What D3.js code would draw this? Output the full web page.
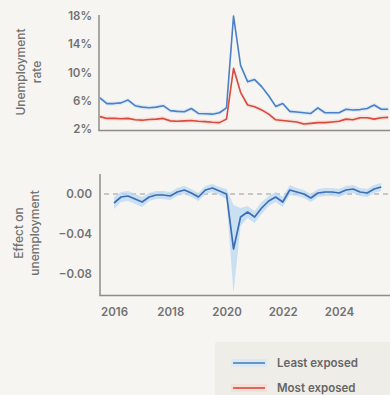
<!DOCTYPE html>
<html>
<head>
<meta charset="utf-8">
<script src="https://cdn.jsdelivr.net/npm/d3@7"></script>
<style>
  html, body { margin: 0; padding: 0; background: #f6f5f1; }
  svg { display: block; font-family: Inter, "Noto Sans", sans-serif; }
</style>
</head>
<body>
<svg id="chart" width="390" height="395"></svg>
<script>
// Quarterly observations, from 2015 Q3 to 2025 Q4 (decimal years)
const quarters = d3.range(0, 42).map(i => 2015.5 + i * 0.25);

// Unemployment rate (%) for the least and most exposed groups
const leastExposed = [
  6.4, 5.6, 5.6, 5.7, 6.1, 5.3, 5.1, 5.0, 5.1, 5.3,
  4.6, 4.5, 4.45, 4.9, 4.2, 4.15, 4.1, 4.3, 5.0, 18.0,
  11.0, 8.7, 9.0, 8.0, 6.7, 5.2, 5.6, 4.5, 4.4, 4.3,
  4.2, 5.0, 4.3, 4.3, 4.3, 4.8, 4.7, 4.75, 4.9, 5.4,
  4.8, 4.8
];
const mostExposed = [
  3.75, 3.5, 3.5, 3.45, 3.5, 3.3, 3.25, 3.35, 3.4, 3.5,
  3.15, 3.1, 3.15, 3.2, 3.1, 3.05, 2.95, 2.9, 3.4, 10.6,
  7.2, 5.4, 5.15, 4.7, 4.1, 3.3, 3.2, 3.1, 3.0, 2.7,
  2.8, 2.9, 2.9, 3.0, 3.1, 3.4, 3.3, 3.6, 3.6, 3.4,
  3.6, 3.65
];

// Estimated effect on unemployment, 2016 Q1 to 2025 Q3
const effectQuarters = d3.range(0, 39).map(i => 2016 + i * 0.25);
const effect = [
  -0.009, -0.003, -0.002, -0.005, -0.008, -0.003, -0.001, -0.001, -0.002, 0.002,
  0.004, 0.001, -0.003, 0.004, 0.006, 0.003, 0.000, -0.055, -0.023, -0.018,
  -0.023, -0.014, -0.007, -0.003, -0.008, 0.004, 0.002, 0.000, -0.004, 0.001,
  0.002, 0.002, 0.001, 0.004, 0.005, 0.002, 0.001, 0.005, 0.007
];
// Half-width of the confidence band around the effect
const effectBand = [
  0.006, 0.005, 0.005, 0.005, 0.005, 0.004, 0.004, 0.004, 0.004, 0.004,
  0.004, 0.004, 0.004, 0.004, 0.004, 0.004, 0.005, 0.044, 0.009, 0.006,
  0.006, 0.006, 0.005, 0.005, 0.005, 0.005, 0.004, 0.004, 0.004, 0.004,
  0.004, 0.004, 0.004, 0.004, 0.004, 0.004, 0.004, 0.004, 0.004
];

const rateTicks = [2, 6, 10, 14, 18];
const effectTicks = [0, -0.04, -0.08];
const yearTicks = [2016, 2018, 2020, 2022, 2024];

const seriesNames = ["Least exposed", "Most exposed"];
const colors = { least: "#4a80c6", most: "#d84a3c", effect: "#3c6db5" };

const svg = d3.select("#chart");
const axisColor = "#8c8c8a";
const textColor = "#727272";

const x = d3.scaleLinear().domain([2016, 2024]).range([114, 339]);

// ---------- Top panel: unemployment rate ----------
const yTop = d3.scaleLinear().domain([2, 18]).range([129, 16]);

const ratePanel = svg.append("g");

const yAxisTop = d3.axisLeft(yTop).tickValues(rateTicks)
  .tickFormat(d => d + "%").tickSize(0).tickPadding(7);
ratePanel.append("g").attr("transform", "translate(99,0)").call(yAxisTop)
  .call(g => g.select(".domain").remove())
  .call(g => g.selectAll("text").attr("fill", textColor)
    .attr("font-size", 11.5).attr("font-weight", 600).attr("font-family", "Inter, sans-serif"));

ratePanel.append("line").attr("x1", 99).attr("x2", 99).attr("y1", 15).attr("y2", 130.5)
  .attr("stroke", axisColor).attr("stroke-width", 1.5);
ratePanel.append("line").attr("x1", 98.25).attr("x2", 390).attr("y1", 130.5).attr("y2", 130.5)
  .attr("stroke", axisColor).attr("stroke-width", 1.5);

const rateArea = (vals) => d3.area()
  .x((d, i) => x(quarters[i]))
  .y0((d) => yTop(d - 0.3))
  .y1((d) => yTop(d + 0.3))(vals);
const rateLine = d3.line().x((d, i) => x(quarters[i])).y(d => yTop(d));

ratePanel.append("path").attr("d", rateArea(leastExposed)).attr("fill", "#cfe3f6").attr("opacity", 0.6);
ratePanel.append("path").attr("d", rateArea(mostExposed)).attr("fill", "#f6d3cd").attr("opacity", 0.6);
ratePanel.append("path").attr("d", rateLine(mostExposed)).attr("fill", "none")
  .attr("stroke", colors.most).attr("stroke-width", 1.6).attr("stroke-linejoin", "round");
ratePanel.append("path").attr("d", rateLine(leastExposed)).attr("fill", "none")
  .attr("stroke", colors.least).attr("stroke-width", 1.6).attr("stroke-linejoin", "round");

svg.append("text")
  .attr("transform", "translate(25,72) rotate(-90)")
  .attr("text-anchor", "middle").attr("fill", textColor)
  .attr("font-size", 12).attr("font-weight", 500)
  .call(t => {
    t.append("tspan").attr("x", 0).attr("dy", 0).text("Unemployment");
    t.append("tspan").attr("x", 0).attr("dy", 16).text("rate");
  });

// ---------- Bottom panel: effect on unemployment ----------
const yBot = d3.scaleLinear().domain([-0.10, 0.02]).range([294, 174]);
const effectPanel = svg.append("g");

const yAxisBot = d3.axisLeft(yBot).tickValues(effectTicks)
  .tickFormat(d3.format(".2f")).tickSize(0).tickPadding(8);
effectPanel.append("g").attr("transform", "translate(100,0)").call(yAxisBot)
  .call(g => g.select(".domain").remove())
  .call(g => g.selectAll("text").attr("fill", textColor)
    .attr("font-size", 11.5).attr("font-weight", 600).attr("font-family", "Inter, sans-serif"));

const xAxisBot = d3.axisBottom(x).tickValues(yearTicks).tickFormat(d3.format("d"))
  .tickSize(0).tickPadding(13);
effectPanel.append("g").attr("transform", "translate(0,295)").call(xAxisBot)
  .call(g => g.select(".domain").remove())
  .call(g => g.selectAll("text").attr("fill", textColor)
    .attr("font-size", 11.5).attr("font-weight", 600).attr("font-family", "Inter, sans-serif"));

effectPanel.append("line").attr("x1", 100).attr("x2", 100).attr("y1", 174).attr("y2", 295.5)
  .attr("stroke", axisColor).attr("stroke-width", 1.5);
effectPanel.append("line").attr("x1", 99.25).attr("x2", 390).attr("y1", 295.5).attr("y2", 295.5)
  .attr("stroke", axisColor).attr("stroke-width", 1.5);

// zero reference line
effectPanel.append("line").attr("x1", 104).attr("x2", 390).attr("y1", yBot(0)).attr("y2", yBot(0))
  .attr("stroke", "#9a9a98").attr("stroke-width", 1.2).attr("stroke-dasharray", "5,4");

const bandArea = d3.area()
  .x((d, i) => x(effectQuarters[i]))
  .y0((d, i) => yBot(d - effectBand[i]))
  .y1((d, i) => yBot(d + effectBand[i]));
effectPanel.append("path").attr("d", bandArea(effect)).attr("fill", "#b9d7f2").attr("opacity", 0.75);

const effLine = d3.line().x((d, i) => x(effectQuarters[i])).y(d => yBot(d));
effectPanel.append("path").attr("d", effLine(effect)).attr("fill", "none")
  .attr("stroke", colors.effect).attr("stroke-width", 1.7).attr("stroke-linejoin", "round");

svg.append("text")
  .attr("transform", "translate(23,233) rotate(-90)")
  .attr("text-anchor", "middle").attr("fill", textColor)
  .attr("font-size", 12).attr("font-weight", 500)
  .call(t => {
    t.append("tspan").attr("x", 0).attr("dy", 0).text("Effect on");
    t.append("tspan").attr("x", 0).attr("dy", 16).text("unemployment");
  });

// ---------- Legend ----------
const legend = svg.append("g").attr("transform", "translate(215,342)");
legend.append("rect").attr("x", 0).attr("y", 0).attr("width", 180).attr("height", 60)
  .attr("rx", 2).attr("fill", "#eeede8");
const legendColors = [colors.least, colors.most];
const legendBands = ["#d6e7f7", "#f7d9d3"];
seriesNames.forEach((name, i) => {
  const yy = 21 + i * 25;
  legend.append("rect").attr("x", 16).attr("y", yy - 4).attr("width", 36).attr("height", 8)
    .attr("fill", legendBands[i]).attr("opacity", 0.7);
  legend.append("line").attr("x1", 18).attr("x2", 50).attr("y1", yy).attr("y2", yy)
    .attr("stroke", legendColors[i]).attr("stroke-width", 1.6);
  legend.append("text").attr("x", 62).attr("y", yy).attr("dy", "0.35em")
    .attr("fill", "#666").attr("font-size", 11.5).attr("font-weight", 600)
    .text(name);
});
</script>
</body>
</html>
